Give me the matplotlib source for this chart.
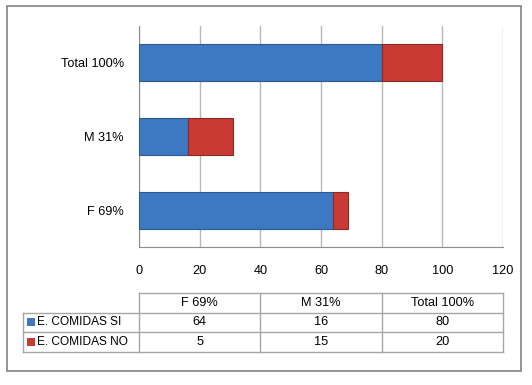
import matplotlib
matplotlib.use("Agg")
import matplotlib.pyplot as plt
from matplotlib.lines import Line2D
from matplotlib.patches import Rectangle

plt.rcParams['font.family'] = ['Liberation Sans Narrow', 'Liberation Sans', 'DejaVu Sans']

categories = ['F 69%', 'M 31%', 'Total 100%']
series_names = ['E. COMIDAS SI', 'E. COMIDAS NO']
si_values = [64, 16, 80]
no_values = [5, 15, 20]
x_ticks = [0, 20, 40, 60, 80, 100, 120]

W, H = 532, 385
BLUE = '#3d78c3'
RED = '#c93a35'
FS = 9.2


def fx(px):
	return px / W


def fy(py):
	return 1 - py / H


fig = plt.figure(figsize=(W / 100, H / 100), dpi=100)

# outer chart border
fig.patches.append(Rectangle((fx(7), fy(371)), fx(521) - fx(7), fy(6) - fy(371),
	transform=fig.transFigure, fill=False, edgecolor='#8c8c8c', linewidth=1.3))

# plot area in pixel coords
left, right, top, bottom = 139, 503, 26, 247
ax = fig.add_axes([fx(left), fy(bottom), fx(right) - fx(left), fy(top) - fy(bottom)])
y = range(len(categories))
ax.barh(y, si_values, height=0.5, color=BLUE, edgecolor='#2b5a94', linewidth=0.8, zorder=3)
ax.barh(y, no_values, left=si_values, height=0.5, color=RED, edgecolor='#8e2a26', linewidth=0.8, zorder=3)
ax.set_xlim(0, 120)
ax.set_ylim(-0.5, len(categories) - 0.5)
ax.set_xticks(x_ticks)
ax.set_xticklabels([str(t) for t in x_ticks], fontsize=FS)
ax.set_yticks(list(y))
ax.set_yticklabels(categories, fontsize=FS)
ax.tick_params(axis='x', length=0, pad=13)
ax.tick_params(axis='y', length=0, pad=11)
ax.grid(axis='x', color='#b8b8b8', linewidth=1, zorder=0)
for s in ['top', 'right']:
	ax.spines[s].set_visible(False)
ax.spines['left'].set_color('#8c8c8c')
ax.spines['bottom'].set_color('#8c8c8c')

# data table below the chart
col_w = (right - left) / len(categories)
row_top, row_h = 293, 19.5
label_left = 23
n_rows = 1 + len(series_names)
line_kw = dict(transform=fig.transFigure, color='#a6a6a6', linewidth=1)

# horizontal lines
for i in range(n_rows + 1):
	yy = row_top + i * row_h
	x0 = left if i == 0 else label_left
	fig.lines.append(Line2D([fx(x0), fx(right)], [fy(yy), fy(yy)], **line_kw))
# vertical lines
for j in range(len(categories) + 1):
	xx = left + j * col_w
	fig.lines.append(Line2D([fx(xx), fx(xx)], [fy(row_top), fy(row_top + n_rows * row_h)], **line_kw))
fig.lines.append(Line2D([fx(label_left), fx(label_left)],
	[fy(row_top + row_h), fy(row_top + n_rows * row_h)], **line_kw))

for j, c in enumerate(categories):
	fig.text(fx(left + (j + 0.5) * col_w), fy(row_top + row_h / 2), c,
		ha='center', va='center', fontsize=FS)

for i, (name, vals, col) in enumerate(zip(series_names, [si_values, no_values], [BLUE, RED])):
	yc = row_top + (i + 1.5) * row_h
	fig.patches.append(Rectangle((fx(27), fy(yc + 4)), fx(8), fy(0) - fy(8),
		transform=fig.transFigure, facecolor=col, edgecolor='none'))
	fig.text(fx(37), fy(yc), name, ha='left', va='center', fontsize=8.6)
	for j, v in enumerate(vals):
		fig.text(fx(left + (j + 0.5) * col_w), fy(yc), str(v), ha='center', va='center', fontsize=FS)

fig.savefig('out.png', dpi=100)
